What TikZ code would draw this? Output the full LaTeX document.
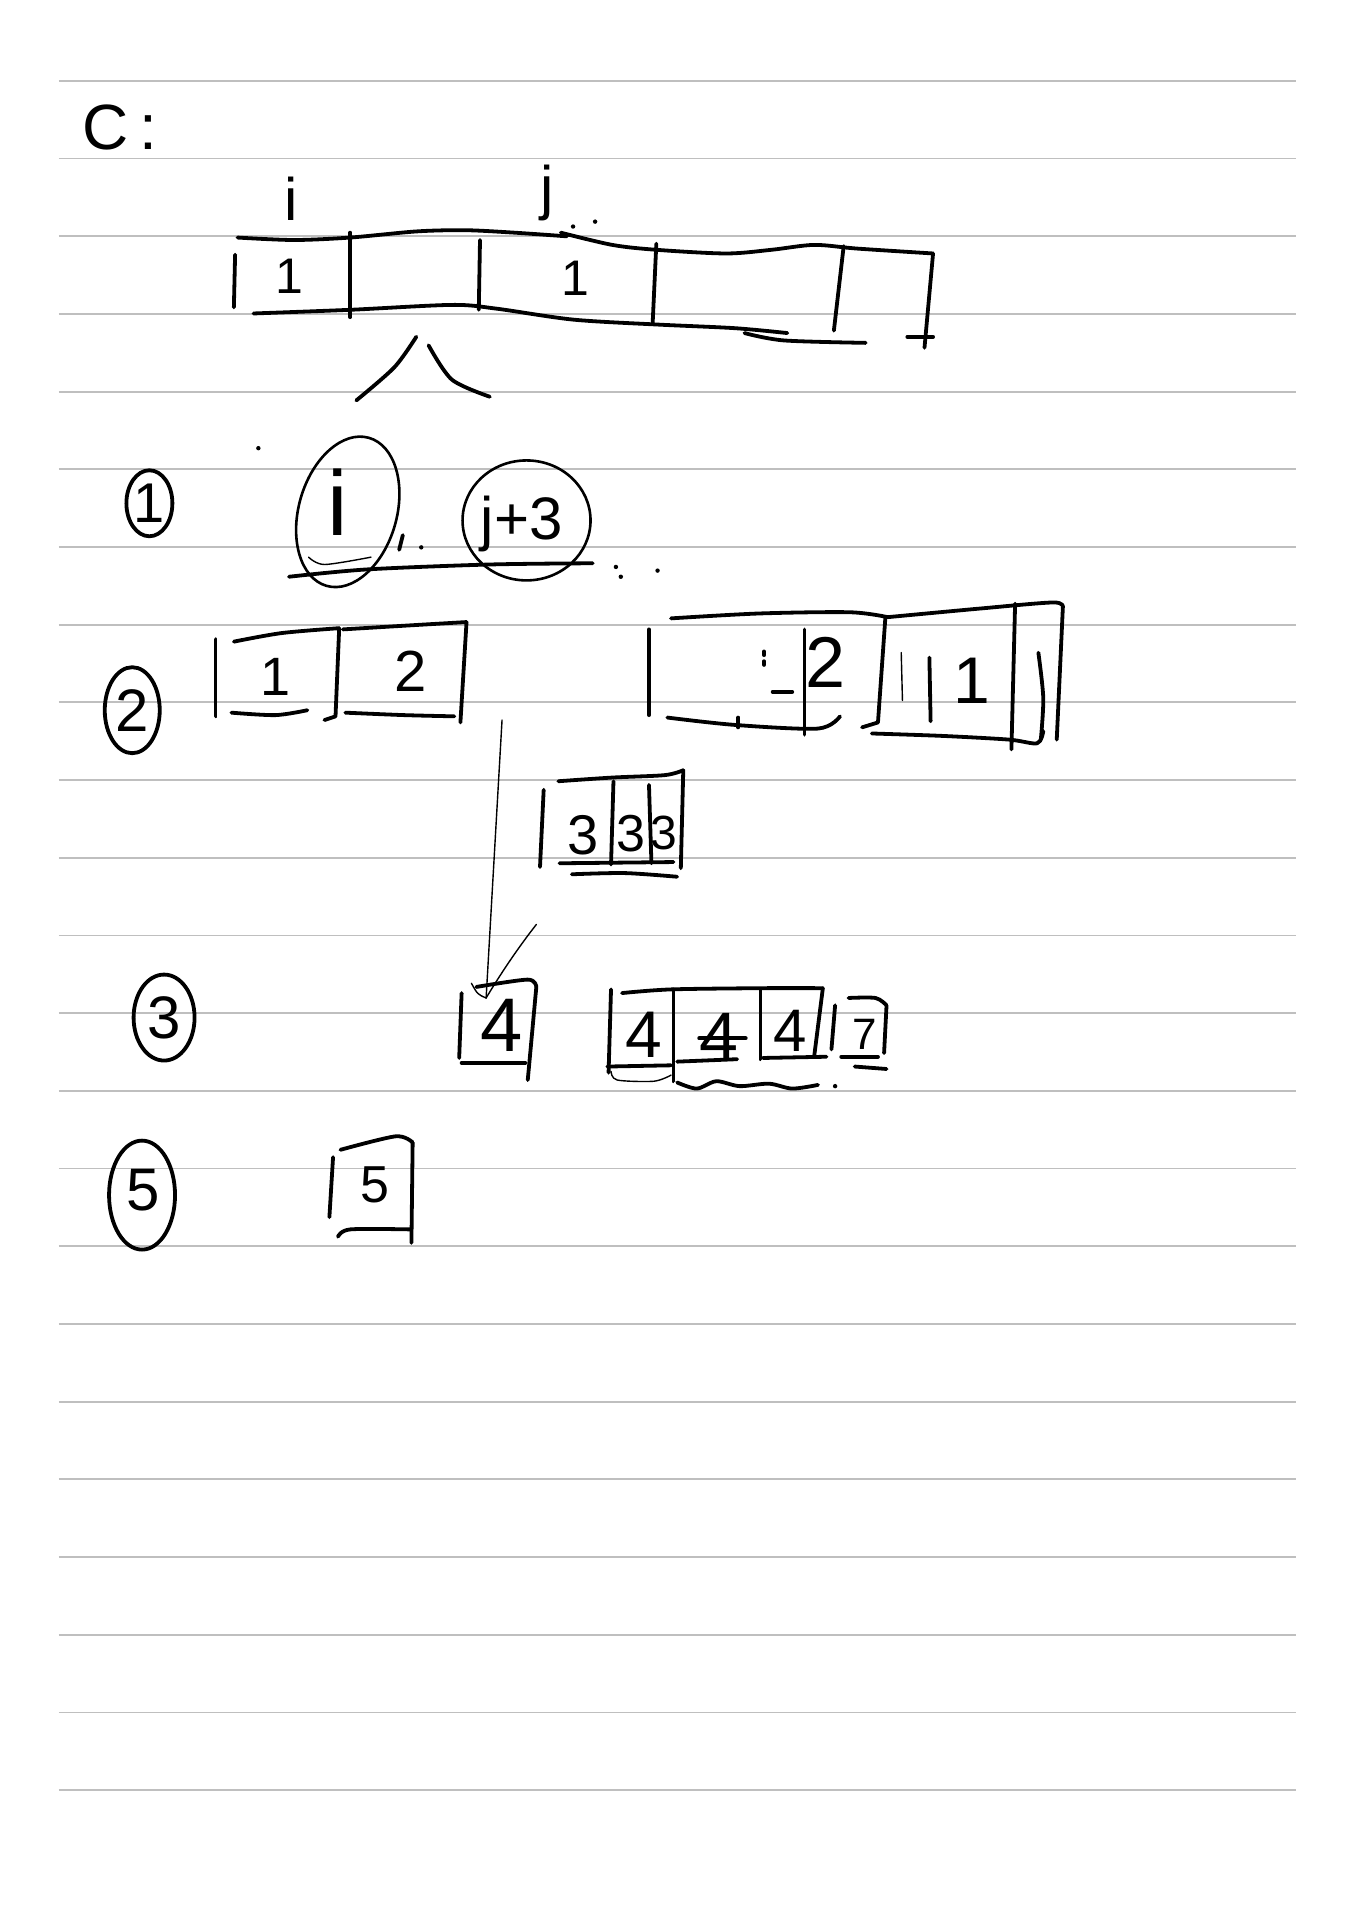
\documentclass[tikz,border=0pt]{standalone}
\usepackage{fontspec}
\setmainfont{Liberation Sans}
\usetikzlibrary{shapes.geometric}
\newcommand\fsz[1]{\fontsize{#1}{#1}\selectfont}
\begin{document}
\begin{tikzpicture}[x=0.61235pt,y=-0.61235pt,
  rule/.style={draw=gray!50, line width=0.9pt},
  ink/.style={line width=1.9pt, line cap=round, line join=round},
  fine/.style={line width=0.7pt, line cap=round, line join=round},
  lbl/.style={inner sep=0pt, outer sep=0pt},
  circ/.style={draw, ellipse, line width=1.9pt, inner sep=0pt},
  speck/.style={fill, circle, inner sep=0pt, minimum size=2.2pt}]
\useasboundingbox[fill=white] (0,0) rectangle (1108,1568);
% ruled paper
\foreach \k in {0,...,22} \draw[rule] (48,{66+63.45*\k}) -- (1058,{66+63.45*\k});

% title
\node[lbl, font=\fsz{32}] (title) at (98,104) {C\,:};

% top array
\node[lbl, font=\fsz{30}] (lbi) at (238,162) {i};
\node[lbl, font=\fsz{30}] (lbj) at (447,158) {j};
\draw[ink] plot[smooth] coordinates {(194,194) (240,196) (286,194) (340,189) (380,188) (420,190) (463,193)};
\draw[ink] plot[smooth] coordinates {(458,190) (500,200) (536,204) (593,207) (630,204) (665,200) (700,203) (762,207)};
\draw[ink] plot[smooth] coordinates {(207,256) (286,253) (369,249) (405,252) (468,261) (536,265) (600,268) (643,272)};
\draw[ink] plot[smooth] coordinates {(608,272) (640,278) (707,280)};
\draw[ink] (192,208) -- (191,251);
\draw[ink] (286,190) -- (286,259);
\draw[ink] (392,196) -- (391,253);
\draw[ink] (536,199) -- (533,264);
\draw[ink] (689,201) -- (681,270);
\draw[ink] (762,207) -- (755,284);
\draw[ink] (741,275) -- (762,275);
\node[lbl, font=\fsz{25}] (a1) at (236,226) {1};
\node[lbl, font=\fsz{25}] (a2) at (470,227) {1};
\node[speck] (s1) at (468,185) {};
\node[speck] (s2) at (486,181) {};
% caret mark
\draw[ink] plot[smooth] coordinates {(340,275) (322,300) (291,327)};
\draw[ink] plot[smooth] coordinates {(350,282) (369,310) (400,324)};

% row 1
\node[circ, minimum width=23pt, minimum height=33pt] (c1) at (122,411) {};
\node[lbl, font=\fsz{28}] (c1t) at (c1) {1};
\node[draw, ellipse, line width=1.3pt, minimum width=49pt, minimum height=77pt, inner sep=0pt, rotate=-16] (ovi) at (284,418) {};
\node[lbl, font=\fsz{46}] (ti) at (276,410) {i};
\draw[fine] plot[smooth] coordinates {(252,455) (265,461) (303,455)};
\draw[ink] (329,437) -- (326,449);
\node[speck] (s3) at (344,447) {};
\node[draw, ellipse, line width=1.3pt, minimum width=64pt, minimum height=60pt, inner sep=0pt] (ovj) at (430,425) {};
\node[lbl, font=\fsz{30}] (tj) at (426,428) {j+3};
\draw[ink] plot[smooth] coordinates {(236,471) (300,465) (400,461) (484,460)};
\node[speck] (s4) at (211,366) {};
\node[speck] (s5) at (503,463) {};
\node[speck] (s6) at (507,471) {};
\node[speck] (s7) at (537,466) {};

% row 2
\node[circ, minimum width=27.5pt, minimum height=43pt] (c2) at (108,580) {};
\node[lbl, font=\fsz{30}] (c2t) at (c2) {2};
% box 1|2
\draw[ink] (176,522) -- (176,585);
\draw[ink] plot[smooth] coordinates {(191,524) (230,517) (277,513)};
\draw[ink] plot[smooth] coordinates {(189,582) (225,584) (251,580)};
\draw[ink] (277,513) -- (274,585) -- (265,588);
\draw[ink] plot[smooth] coordinates {(280,514) (330,511) (381,508)};
\draw[ink] (381,508) -- (376,590);
\draw[ink] plot[smooth] coordinates {(282,582) (330,584) (371,585)};
\node[lbl, font=\fsz{27}] (b1) at (225,553) {1};
\node[lbl, font=\fsz{29}] (b2) at (335,548) {2};
% right group
\draw[ink] (530,514) -- (530,584);
\draw[ink] plot[smooth] coordinates {(548,505) (620,501) (694,500) (725,504)};
\draw[ink] plot[smooth] coordinates {(725,504) (800,497) (860,492) (868,496)};
\draw[ink] (868,496) -- (863,604);
\draw[ink] plot[smooth] coordinates {(545,586) (600,592) (668,595) (686,585)};
\draw[ink] (603,586) -- (603,594);
\draw[ink] (657,514) -- (657,600);
\draw[ink] (624,532) -- (624,535);
\draw[ink] (624,540) -- (624,543);
\draw[ink] (631,565) -- (647,565);
\node[lbl, font=\fsz{36}] (r2) at (674,541) {2};
\draw[ink] (723,505) -- (717,590) -- (704,594);
\draw[fine] (736,533) -- (737,572);
\draw[ink] (759,537) -- (760,589);
\node[lbl, font=\fsz{33}] (r1) at (794,556) {1};
\draw[ink] (829,493) -- (826,612);
\draw[ink] plot[smooth] coordinates {(848,533) (852,570) (850,604)};
\draw[ink] plot[smooth] coordinates {(712,599) (770,601) (824,604) (847,607) (852,597)};
% box 333
\draw[ink] (444,645) -- (441,708);
\draw[ink] plot[smooth] coordinates {(456,638) (500,635) (543,633) (558,629)};
\draw[ink] (558,629) -- (556,709);
\draw[ink] (501,638) -- (499,706);
\draw[ink] (530,641) -- (532,705);
\draw[ink] (457,705) -- (550,704);
\draw[ink] plot[smooth] coordinates {(467,714) (510,713) (553,716)};
\node[lbl, font=\fsz{28}] (t1) at (476,682) {3};
\node[lbl, font=\fsz{26}] (t2) at (515,681) {3};
\node[lbl, font=\fsz{24}] (t3) at (542,680) {3};

% connector
\coordinate (lstart) at (410,588);
\coordinate (lend) at (397,815);
\coordinate (cstart) at (438,755);
\coordinate (ctail) at (385,803);
\draw[fine] (lstart) -- (lend);
\draw[fine] (cstart) .. controls (420,778) and (406,800) .. (lend);
\draw[fine] (ctail) .. controls (390,812) .. (lend);

% row 3
\node[circ, minimum width=30.5pt, minimum height=43pt] (c3) at (134,831) {};
\node[lbl, font=\fsz{30}] (c3t) at (c3) {3};
% box 4
\draw[ink] (377,811) -- (375,864);
\draw[ink] plot[smooth] coordinates {(389,806) (431,800) (438,806)};
\draw[ink] (438,806) -- (431,882);
\draw[ink] (377,868) -- (429,868);
\node[lbl, font=\fsz{38}] (f0) at (410,837) {4};
% box 4 4 4 7
\draw[ink] (499,808) -- (497,876);
\draw[ink] plot[smooth] coordinates {(508,811) (548,808) (623,807) (672,807)};
\draw[ink] (550,808) -- (550,883);
\draw[ink] (621,808) -- (621,865);
\draw[ink] (672,807) -- (665,862);
\draw[ink] (496,871) -- (548,870);
\draw[ink] (553,867) -- (602,865);
\draw[ink] (623,864) -- (675,863);
\node[lbl, font=\fsz{33}] (f1) at (526,845) {4};
\node[lbl, font=\fsz{35}] (f2) at (587,847) {4};
\draw[ink] (571,848) -- (609,848);
\node[lbl, font=\fsz{30}] (f3) at (645,842) {4};
\draw[ink] (682,821) -- (679,857);
\draw[ink] plot[smooth] coordinates {(693,815) (715,815) (724,821)};
\draw[ink] (724,821) -- (722,860);
\node[lbl, font=\fsz{22}] (f4) at (706,845) {7};
\draw[ink] (687,863) -- (717,863);
\draw[ink] (698,871) -- (724,873);
\draw[fine] plot[smooth] coordinates {(499,875) (504,882) (534,883) (548,878)};
\draw[ink] plot[smooth] coordinates {(553,884) (569,889) (585,883) (604,887) (628,885) (647,889) (668,886)};
\node[speck] (s8) at (682,887) {};

% row 5
\node[circ, minimum width=33pt, minimum height=54.5pt] (c5) at (116,976) {};
\node[lbl, font=\fsz{30}] (c5t) at (117,972) {5};
\draw[ink] (272,945) -- (269,994);
\draw[ink] plot[smooth] coordinates {(278,939) (323,928) (337,933)};
\draw[ink] (337,933) -- (336,1015);
\draw[ink] plot[smooth] coordinates {(276,1010) (286,1004) (335,1004)};
\node[lbl, font=\fsz{26}] (g5) at (306,968) {5};
\end{tikzpicture}
\end{document}
